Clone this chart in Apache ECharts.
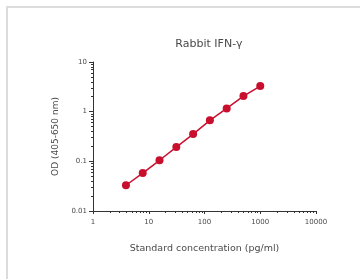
<!DOCTYPE html>
<html>
<head>
<meta charset="utf-8">
<script src="https://cdn.jsdelivr.net/npm/echarts@6/dist/echarts.min.js"></script>
<style>
  html, body { margin: 0; padding: 0; background: #fff; }
  #main { width: 360px; height: 279px; }
</style>
</head>
<body>
<div id="main"></div>
<script>
// standard curve, 2-fold dilutions
const concentration = [3.9, 7.8, 15.6, 31.25, 62.5, 125, 250, 500, 1000];
const od = [0.033, 0.058, 0.105, 0.194, 0.354, 0.668, 1.16, 2.06, 3.27];

const xMajor = [1, 10, 100, 1000, 10000];
const yMajor = [0.01, 0.1, 1, 10];

function minorsFor(decades) {
  const out = [];
  decades.forEach(function (d) {
    for (let k = 2; k <= 9; k++) out.push(+(d * k).toPrecision(3));
  });
  return out;
}
const xMinor = minorsFor([1, 10, 100, 1000]);
const yMinor = minorsFor([0.01, 0.1, 1]);

window.onload = function () {
  const chart = echarts.init(document.getElementById('main'));
  const textColor = '#4a4a4a';
  const axisColor = '#333';
  const red = '#c8102e';
  const font = 'DejaVu Sans';

  const option = {
    animation: false,
    textStyle: { fontFamily: font },
    title: {
      text: 'Rabbit IFN-γ',
      left: 204, top: 34, textAlign: 'center',
      textStyle: { fontSize: 11, fontWeight: 'normal', color: textColor, fontFamily: font }
    },
    // light frame, only top and left edges fall inside the picture
    graphic: [{
      type: 'polyline', silent: true,
      shape: { points: [[7, 279], [7, 7], [360, 7]] },
      style: { fill: null, stroke: '#dcdcdc', lineWidth: 2 }
    }],
    grid: { left: 93, right: 44, top: 62, bottom: 68 },
    xAxis: [{
      type: 'log', logBase: 10, min: 1, max: 10000, position: 'bottom',
      name: 'Standard concentration (pg/ml)', nameLocation: 'middle', nameGap: 33,
      nameTextStyle: { fontSize: 9.5, color: textColor },
      axisLine: { lineStyle: { color: axisColor, width: 1 } },
      axisTick: { customValues: xMajor, length: 3, lineStyle: { color: axisColor } },
      axisLabel: { customValues: xMajor, fontSize: 7, color: textColor, margin: 8,
        formatter: function (v) { return String(v); } },
      splitLine: { show: false }
    }, {
      type: 'log', logBase: 10, min: 1, max: 10000, position: 'bottom',
      axisLine: { show: false },
      axisTick: { customValues: xMinor, length: 2, lineStyle: { color: axisColor } },
      axisLabel: { show: false },
      splitLine: { show: false }
    }],
    yAxis: [{
      type: 'log', logBase: 10, min: 0.01, max: 10, position: 'left',
      name: 'OD (405-650 nm)', nameLocation: 'middle', nameGap: 32,
      nameTextStyle: { fontSize: 9, color: textColor },
      axisLine: { show: true, lineStyle: { color: axisColor, width: 1 } },
      axisTick: { show: true, customValues: yMajor, length: 4, lineStyle: { color: axisColor } },
      axisLabel: { customValues: yMajor, fontSize: 7, color: textColor, margin: 6,
        formatter: function (v) { return String(v); } },
      splitLine: { show: false }
    }, {
      type: 'log', logBase: 10, min: 0.01, max: 10, position: 'left',
      axisLine: { show: false },
      axisTick: { show: true, customValues: yMinor, length: 2, lineStyle: { color: axisColor } },
      axisLabel: { show: false },
      splitLine: { show: false }
    }],
    series: [{
      type: 'line',
      xAxisIndex: 0, yAxisIndex: 0,
      data: concentration.map(function (c, i) { return [c, od[i]]; }),
      symbol: 'circle', symbolSize: 8,
      itemStyle: { color: red },
      lineStyle: { color: red, width: 1.5 }
    }]
  };
  chart.setOption(option);
};
</script>
</body>
</html>
